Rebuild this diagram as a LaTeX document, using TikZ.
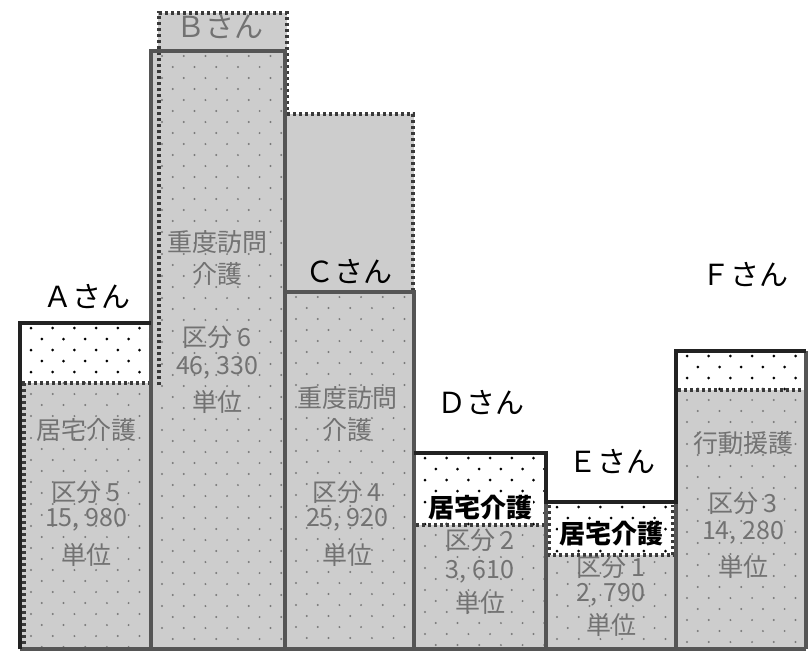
\documentclass[tikz,border=0pt]{standalone}
\usepackage{fontspec}
\setmainfont{Noto Sans CJK JP}
\definecolor{barfill}{HTML}{CDCDCD}
\definecolor{dotg}{HTML}{7A7A7A}
\definecolor{txtg}{HTML}{727272}
\definecolor{dashc}{HTML}{3A3A3A}
\definecolor{sidec}{HTML}{555555}
\definecolor{topc}{HTML}{222222}
\newcommand{\dotfield}[5]{%
  \begin{scope}
  \clip (#1,#2) rectangle (#3,#4);
  \foreach \r in {0,...,60}{%
    \pgfmathsetmacro{\yy}{#2+5+11*\r}
    \pgfmathsetmacro{\xo}{mod(\r,2)==0 ? 11 : 21.8}
    \foreach \c in {-1,...,6}{%
      \pgfmathsetmacro{\xx}{#1+\xo+21.7*\c}
      \ifdim\yy pt<#5pt \fill[black] (\xx,\yy) circle (1.5pt);\else\fill[dotg] (\xx,\yy) circle (1.1pt);\fi
    }
  }
  \end{scope}}
\tikzset{
  dashln/.style={draw=dashc, line width=3.2pt, dash pattern=on 3pt off 3pt},
  sideln/.style={draw=sidec, line width=3.4pt},
  topln/.style={draw=topc, line width=4pt},
  lbl/.style={font=\fontsize{29}{30}\selectfont, text=black, inner sep=0pt},
  intxt/.style={font=\fontsize{25}{26}\selectfont, text=txtg, inner sep=0pt},
  boldtxt/.style={font=\fontsize{26}{27}\selectfont\bfseries, text=black, fill=white, inner sep=1pt},
}
\begin{document}
\begin{tikzpicture}[x=1pt,y=-1pt]
\useasboundingbox (0,0) rectangle (808,651);
\fill[white] (0,0) rectangle (808,651);
% gray fills
\fill[barfill] (20,383) rectangle (151,649);
\fill[barfill] (158,13) rectangle (287,51);
\fill[barfill] (151,51) rectangle (285,649);
\fill[barfill] (285,114) rectangle (414,649);
\fill[barfill] (414,525) rectangle (546,649);
\fill[barfill] (546,555) rectangle (676,649);
\fill[barfill] (676,390) rectangle (806,649);
% dot patterns
\dotfield{20}{323}{151}{649}{383}
\dotfield{151}{51}{285}{649}{0}
\dotfield{285}{292}{414}{649}{0}
\dotfield{414}{453}{546}{649}{525}
\dotfield{546}{502}{676}{649}{555}
\dotfield{676}{351}{806}{649}{390}
% dashed borders
\draw[dashln] (22,383) -- (151,383);
\draw[dashln] (24,383) -- (24,649);
\draw[dashln] (159,385) -- (159,13) -- (287,13) -- (287,114);
\draw[dashln] (287,114) -- (413,114) -- (413,292);
\draw[dashln] (416,525) -- (546,525);
\draw[dashln] (549,505) -- (549,555) -- (673,555) -- (673,505);
\draw[dashln] (678,390) -- (806,390);
% solid outlines
\draw[sideln] (151,649) -- (151,51) -- (285,51) -- (285,649);
\draw[sideln] (285,292) -- (414,292) -- (414,649);
\draw[sideln] (546,502) -- (546,649);
\draw[sideln] (676,502) -- (676,649);
\draw[sideln] (806,351) -- (806,649);
\draw[sideln] (20,649) -- (806,649);
\draw[topln] (20,649) -- (20,323) -- (151,323);
\draw[topln] (414,453) -- (546,453) -- (546,502) -- (676,502) -- (676,351) -- (806,351);
% name labels
\node[lbl] (la) at (87,297) {Ａさん};
\node[lbl, text=txtg] (lb) at (220,27) {Ｂさん};
\node[lbl] (lc) at (349,272) {Ｃさん};
\node[lbl] (ld) at (481,403) {Ｄさん};
\node[lbl] (le) at (612,462) {Ｅさん};
\node[lbl] (lf) at (745,275) {Ｆさん};
% A texts
\node[intxt] (a1) at (86,430) {居宅介護};
\node[intxt] (a2) at (86,492) {区分 5};
\node[intxt] (a3) at (86,520) {15, 980};
\node[intxt] (a4) at (86,555) {単位};
% B texts
\node[intxt] (b1) at (217,242) {重度訪問};
\node[intxt] (b2) at (217,274) {介護};
\node[intxt] (b3) at (217,337) {区分 6};
\node[intxt] (b4) at (217,368) {46, 330};
\node[intxt] (b5) at (217,402) {単位};
% C texts
\node[intxt] (c1) at (347,398) {重度訪問};
\node[intxt] (c2) at (347,430) {介護};
\node[intxt] (c3) at (347,492) {区分 4};
\node[intxt] (c4) at (347,520) {25, 920};
\node[intxt] (c5) at (347,555) {単位};
% D texts
\node[boldtxt] (d1) at (480,508) {居宅介護};
\node[intxt] (d2) at (480,540) {区分 2};
\node[intxt] (d3) at (480,572) {3, 610};
\node[intxt] (d4) at (480,603) {単位};
% E texts
\node[boldtxt] (e1) at (611,534) {居宅介護};
\node[intxt] (e2) at (611,567) {区分 1};
\node[intxt] (e3) at (611,595) {2, 790};
\node[intxt] (e4) at (611,625) {単位};
% F texts
\node[intxt] (f1) at (743,443) {行動援護};
\node[intxt] (f2) at (743,503) {区分 3};
\node[intxt] (f3) at (743,533) {14, 280};
\node[intxt] (f4) at (743,567) {単位};
\end{tikzpicture}
\end{document}
